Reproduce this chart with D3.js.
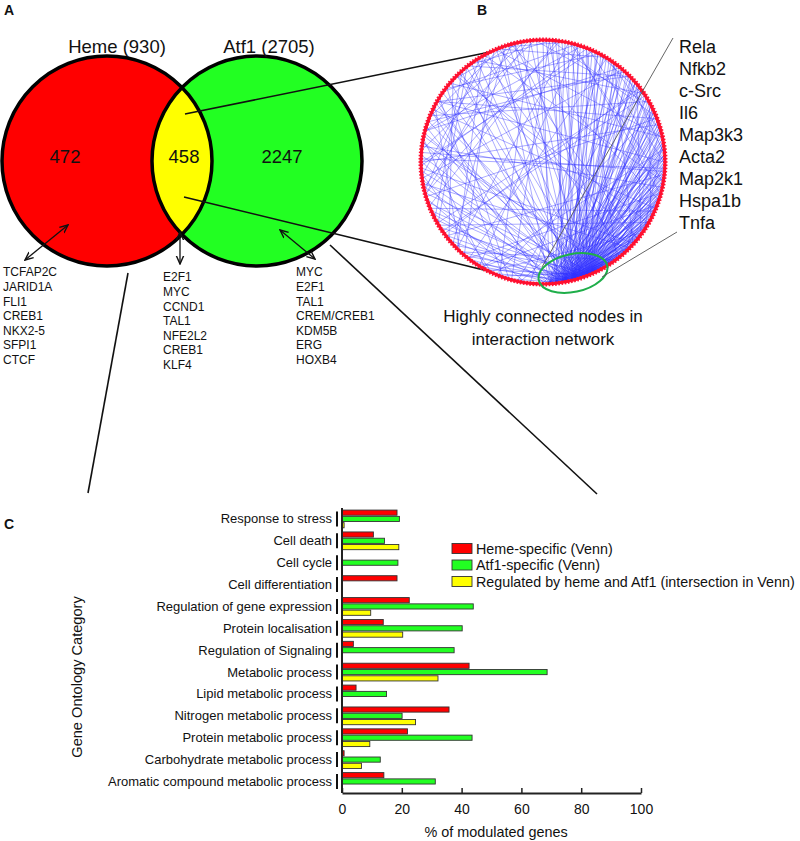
<!DOCTYPE html>
<html>
<head>
<meta charset="utf-8">
<script src="https://cdn.jsdelivr.net/npm/d3@7"></script>
<style>
  body { margin: 0; background: #fff; }
  text { font-family: Arial, "Liberation Sans", sans-serif; fill: #111; }
</style>
</head>
<body>
<script>
// panel A - venn
var setLabels = ["Heme (930)", "Atf1 (2705)"];
var regionCounts = [472, 458, 2247];
var hemeGenes = ["TCFAP2C", "JARID1A", "FLI1", "CREB1", "NKX2-5", "SFPI1", "CTCF"];
var sharedGenes = ["E2F1", "MYC", "CCND1", "TAL1", "NFE2L2", "CREB1", "KLF4"];
var atf1Genes = ["MYC", "E2F1", "TAL1", "CREM/CREB1", "KDM5B", "ERG", "HOXB4"];

// panel B - network
var hubGenes = ["Rela", "Nfkb2", "c-Src", "Il6", "Map3k3", "Acta2", "Map2k1", "Hspa1b", "Tnfa"];
var nodeCount = 240;
var hubLinks = [
  [104, [2, 9, 17, 24, 31, 38, 43, 49, 55, 60, 64, 69, 73, 77, 81, 86, 90, 95, 133, 151, 170, 196, 214, 229]],
  [106, [6, 14, 22, 29, 36, 40, 45, 51, 56, 62, 67, 71, 75, 79, 84, 88, 92, 97, 138, 158, 177, 189, 203, 222]],
  [108, [4, 11, 19, 27, 33, 39, 44, 48, 53, 58, 63, 68, 72, 76, 80, 85, 89, 94, 99, 146, 164, 182, 210, 236]],
  [110, [1, 13, 21, 26, 34, 42, 47, 50, 54, 59, 65, 70, 74, 78, 82, 87, 91, 96, 100, 142, 167, 193, 218, 233]],
  [111, [8, 16, 25, 32, 37, 41, 46, 52, 57, 61, 66, 71, 76, 83, 89, 93, 98, 135, 155, 174, 199, 225]],
  [113, [3, 10, 18, 23, 30, 35, 43, 48, 55, 60, 64, 69, 73, 79, 84, 90, 95, 101, 148, 161, 186, 207, 231]],
  [114, [5, 15, 20, 28, 36, 44, 49, 53, 58, 62, 67, 72, 77, 81, 86, 92, 97, 102, 140, 172, 200, 216]],
  [116, [7, 12, 24, 31, 39, 45, 50, 56, 63, 68, 74, 80, 85, 91, 96, 103, 130, 153, 180, 212, 238]],
  [118, [0, 18, 27, 33, 42, 47, 54, 59, 65, 70, 75, 82, 87, 94, 100, 144, 163, 191, 227]]
];
var crossLinks = [[2,130],[5,170],[8,150],[12,190],[15,60],[18,205],[21,145],[24,88],[27,175],[30,215],
  [33,128],[36,160],[40,195],[44,135],[48,180],[52,225],[56,140],[60,200],[64,155],[68,185],[72,230],
  [76,165],[80,210],[84,137],[88,178],[92,220],[96,148],[100,188],[124,20],[127,58],[131,205],[134,236],
  [137,176],[141,11],[145,70],[149,198],[152,228],[156,35],[159,80],[162,212],[166,4],[169,46],[173,90],
  [176,222],[179,14],[183,63],[186,98],[190,234],[193,28],[197,75],[201,133],[204,10],[207,52],[211,86],
  [214,160],[218,37],[221,66],[224,147],[228,6],[231,94],[235,172],[238,41],[10,70],[22,50],[34,84],
  [46,200],[58,120],[62,181],[74,140],[86,226],[26,190],[38,157],[150,220],[170,230],[180,16],[200,30],
  [3,45],[9,66],[14,95],[19,38],[29,57],[41,78],[50,91],[54,82],[61,99],[66,102],[71,93],[79,98],
  [120,196],[126,168],[139,187],[154,208],[171,219],[184,237],[195,226],[209,232],[216,2],[226,20]];

// panel C - GO bars
var categories = ["Response to stress", "Cell death", "Cell cycle", "Cell differentiation",
  "Regulation of gene expression", "Protein localisation", "Regulation of Signaling", "Metabolic process",
  "Lipid metabolic process", "Nitrogen metabolic process", "Protein metabolic process",
  "Carbohydrate metabolic process", "Aromatic compound metabolic process"];
var seriesNames = ["Heme-specific (Venn)", "Atf1-specific (Venn)", "Regulated by heme and Atf1 (intersection in Venn)"];
var hemeSpecific = [18.4, 10.5, 0, 18.4, 22.5, 13.8, 3.8, 42.5, 4.7, 35.8, 21.9, 0.7, 14.0];
var atf1Specific = [19.2, 14.2, 18.7, 0, 43.9, 40.2, 37.5, 68.6, 14.9, 20.1, 43.5, 12.8, 31.2];
var intersection = [0.7, 19.0, 0, 0, 9.6, 20.3, 0, 32.1, 0, 24.6, 9.3, 6.5, 0];
var xTicks = [0, 20, 40, 60, 80, 100];
var colors = ["#ff0000", "#22ff22", "#ffff00"];

var w = 800, h = 841;
var svg = d3.select("body").append("svg")
    .attr("width", w)
    .attr("height", h);
svg.append("rect").attr("width", w).attr("height", h).attr("fill", "#fff");

var defs = svg.append("defs");
["arrowEnd", "arrowStart"].forEach(function(id, i) {
  defs.append("marker")
      .attr("id", id)
      .attr("viewBox", "0 0 10 10")
      .attr("refX", i ? 1 : 9).attr("refY", 5)
      .attr("markerWidth", 7).attr("markerHeight", 7)
      .attr("orient", "auto")
    .append("path")
      .attr("d", i ? "M10,1 L1,5 L10,9" : "M0,1 L9,5 L0,9")
      .attr("fill", "none").attr("stroke", "#111").attr("stroke-width", 1.6);
});

// ---------- A: venn ----------
var circles = [{cx: 107, cy: 161, r: 105}, {cx: 257, cy: 161, r: 105}];
defs.append("clipPath").attr("id", "redClip")
  .append("circle").attr("cx", circles[0].cx).attr("cy", circles[0].cy).attr("r", circles[0].r);

var venn = svg.append("g");
venn.selectAll("circle.fill")
    .data(circles)
  .enter().append("circle")
    .attr("cx", function(d) { return d.cx; })
    .attr("cy", function(d) { return d.cy; })
    .attr("r", function(d) { return d.r; })
    .attr("fill", function(d, i) { return colors[i]; });
venn.append("circle")
    .attr("cx", circles[1].cx).attr("cy", circles[1].cy).attr("r", circles[1].r)
    .attr("clip-path", "url(#redClip)")
    .attr("fill", colors[2]);
venn.selectAll("circle.edge")
    .data(circles)
  .enter().append("circle")
    .attr("cx", function(d) { return d.cx; })
    .attr("cy", function(d) { return d.cy; })
    .attr("r", function(d) { return d.r; })
    .attr("fill", "none").attr("stroke", "#000").attr("stroke-width", 3.5);

venn.selectAll("text.set")
    .data(setLabels)
  .enter().append("text")
    .attr("x", function(d, i) { return [117, 269][i]; })
    .attr("y", 53)
    .attr("text-anchor", "middle")
    .style("font-size", "18.5px")
    .text(function(d) { return d; });
venn.selectAll("text.count")
    .data(regionCounts)
  .enter().append("text")
    .attr("x", function(d, i) { return [65, 184, 282][i]; })
    .attr("y", 163)
    .attr("text-anchor", "middle")
    .style("font-size", "18.5px")
    .text(function(d) { return d; });

// connector lines
var connectors = [[185, 114, 490, 52], [184, 197, 492, 272], [128, 273, 88, 493], [330, 245, 597, 494]];
svg.selectAll("line.conn")
    .data(connectors)
  .enter().append("line")
    .attr("x1", function(d) { return d[0]; }).attr("y1", function(d) { return d[1]; })
    .attr("x2", function(d) { return d[2]; }).attr("y2", function(d) { return d[3]; })
    .attr("stroke", "#111").attr("stroke-width", 1.6);

// double arrows to gene lists
var arrows = [[68, 225, 25, 260], [180, 232, 180, 264], [280, 230, 315, 259]];
svg.selectAll("line.arrow")
    .data(arrows)
  .enter().append("line")
    .attr("x1", function(d) { return d[0]; }).attr("y1", function(d) { return d[1]; })
    .attr("x2", function(d) { return d[2]; }).attr("y2", function(d) { return d[3]; })
    .attr("stroke", "#111").attr("stroke-width", 1.3)
    .attr("marker-start", "url(#arrowStart)")
    .attr("marker-end", "url(#arrowEnd)");

[[hemeGenes, 3, 272], [sharedGenes, 163, 277], [atf1Genes, 296, 272]].forEach(function(g) {
  svg.append("g").selectAll("text")
      .data(g[0])
    .enter().append("text")
      .attr("x", g[1])
      .attr("y", function(d, i) { return g[2] + i * 14.6 + 4.3; })
      .style("font-size", "12px")
      .text(function(d) { return d; });
});

// ---------- B: network ----------
var net = {cx: 543, cy: 162, r: 121};
function nodePos(i, rr) {
  var a = i / nodeCount * 2 * Math.PI;
  rr = rr || net.r;
  return [net.cx + rr * Math.sin(a), net.cy - rr * Math.cos(a)];
}
var links = [];
hubLinks.forEach(function(hl) {
  hl[1].forEach(function(t) { links.push([hl[0], t]); });
});
crossLinks.forEach(function(c) { links.push(c); });

svg.append("g").selectAll("line")
    .data(links)
  .enter().append("line")
    .attr("x1", function(d) { return nodePos(d[0])[0]; })
    .attr("y1", function(d) { return nodePos(d[0])[1]; })
    .attr("x2", function(d) { return nodePos(d[1])[0]; })
    .attr("y2", function(d) { return nodePos(d[1])[1]; })
    .attr("stroke", "#3030ff").attr("stroke-opacity", 0.5).attr("stroke-width", 0.8);

svg.append("circle")
    .attr("cx", net.cx).attr("cy", net.cy).attr("r", net.r + 1)
    .attr("fill", "none").attr("stroke", "#ff1030").attr("stroke-width", 3);
svg.append("g").selectAll("line")
    .data(d3.range(nodeCount))
  .enter().append("line")
    .attr("x1", function(d) { return nodePos(d, net.r - 1)[0]; })
    .attr("y1", function(d) { return nodePos(d, net.r - 1)[1]; })
    .attr("x2", function(d) { return nodePos(d, net.r + 3.5)[0]; })
    .attr("y2", function(d) { return nodePos(d, net.r + 3.5)[1]; })
    .attr("stroke", "#ff1030").attr("stroke-width", 1.6);

svg.append("ellipse")
    .attr("transform", "translate(573,273) rotate(-12)")
    .attr("rx", 35).attr("ry", 19)
    .attr("fill", "none").attr("stroke", "#1fae4a").attr("stroke-width", 2);

svg.selectAll("line.pointer")
    .data([[542, 267, 673, 38], [602, 277, 677, 232]])
  .enter().append("line")
    .attr("x1", function(d) { return d[0]; }).attr("y1", function(d) { return d[1]; })
    .attr("x2", function(d) { return d[2]; }).attr("y2", function(d) { return d[3]; })
    .attr("stroke", "#555").attr("stroke-width", 0.9);

svg.append("g").selectAll("text")
    .data(hubGenes)
  .enter().append("text")
    .attr("x", 679)
    .attr("y", function(d, i) { return 46.7 + i * 22 + 6.5; })
    .style("font-size", "18px")
    .text(function(d) { return d; });

svg.selectAll("text.caption")
    .data(["Highly connected nodes in", "interaction network"])
  .enter().append("text")
    .attr("x", 543)
    .attr("y", function(d, i) { return 322 + i * 23; })
    .attr("text-anchor", "middle")
    .style("font-size", "17px")
    .text(function(d) { return d; });

// panel letters
svg.selectAll("text.panel")
    .data([["A", 4, 15], ["B", 477, 15], ["C", 4, 529]])
  .enter().append("text")
    .attr("x", function(d) { return d[1]; })
    .attr("y", function(d) { return d[2]; })
    .style("font-size", "14px").style("font-weight", "bold")
    .text(function(d) { return d[0]; });

// ---------- C: bars ----------
var x = d3.scaleLinear().domain([0, 100]).range([342, 641]);
var y = d3.scaleBand().domain(categories).range([508, 792.4]);
var ySub = d3.scaleBand().domain([0, 1, 2]).range([-10, 10]).padding(0.18);
var series = [hemeSpecific, atf1Specific, intersection];

var barG = svg.append("g");
series.forEach(function(vals, s) {
  barG.append("g").selectAll("rect")
      .data(vals.map(function(v, i) { return {v: v, c: categories[i]}; }).filter(function(d) { return d.v > 0; }))
    .enter().append("rect")
      .attr("x", x(0))
      .attr("y", function(d) { return y(d.c) + y.bandwidth() / 2 + ySub(s); })
      .attr("width", function(d) { return x(d.v) - x(0); })
      .attr("height", ySub.bandwidth())
      .attr("fill", colors[s])
      .attr("stroke", "#333").attr("stroke-width", 0.9);
});

// category brackets
barG.append("g").selectAll("line")
    .data(categories)
  .enter().append("line")
    .attr("x1", 337).attr("x2", 337)
    .attr("y1", function(d) { return y(d) + y.bandwidth() / 2 - 7.5; })
    .attr("y2", function(d) { return y(d) + y.bandwidth() / 2 + 7.5; })
    .attr("stroke", "#111").attr("stroke-width", 2);

barG.append("g").selectAll("text")
    .data(categories)
  .enter().append("text")
    .attr("x", 332)
    .attr("y", function(d) { return y(d) + y.bandwidth() / 2 + 4.5; })
    .attr("text-anchor", "end")
    .style("font-size", "13px")
    .text(function(d) { return d; });

// y axis line
barG.append("line")
    .attr("x1", x(0)).attr("x2", x(0)).attr("y1", 508).attr("y2", 793)
    .attr("stroke", "#222").attr("stroke-width", 2);

var xAxis = svg.append("g")
    .attr("transform", "translate(0,793)")
    .call(d3.axisBottom(x).tickValues(xTicks).tickSizeInner(-5).tickSizeOuter(0).tickPadding(11));
xAxis.select(".domain").attr("stroke", "#222").attr("stroke-width", 2);
xAxis.selectAll(".tick line").attr("stroke", "#222").attr("stroke-width", 1.5);
xAxis.selectAll(".tick text")
    .style("font-size", "14px")
    .style("font-family", "Arial, 'Liberation Sans', sans-serif")
    .attr("fill", "#111");

svg.append("text")
    .attr("x", 496).attr("y", 837)
    .attr("text-anchor", "middle")
    .style("font-size", "14.4px")
    .text("% of modulated genes");

svg.append("text")
    .attr("transform", "translate(82,677) rotate(-90)")
    .attr("text-anchor", "middle")
    .style("font-size", "14.6px")
    .text("Gene Ontology Category");

// legend
var legend = svg.append("g").selectAll("g")
    .data(seriesNames)
  .enter().append("g")
    .attr("transform", function(d, i) { return "translate(452," + (548.5 + i * 16.5) + ")"; });
legend.append("rect")
    .attr("y", -5).attr("width", 20).attr("height", 10)
    .attr("fill", function(d, i) { return colors[i]; })
    .attr("stroke", "#333").attr("stroke-width", 0.9);
legend.append("text")
    .attr("x", 24).attr("y", 5)
    .style("font-size", "14.3px")
    .text(function(d) { return d; });
</script>
</body>
</html>
